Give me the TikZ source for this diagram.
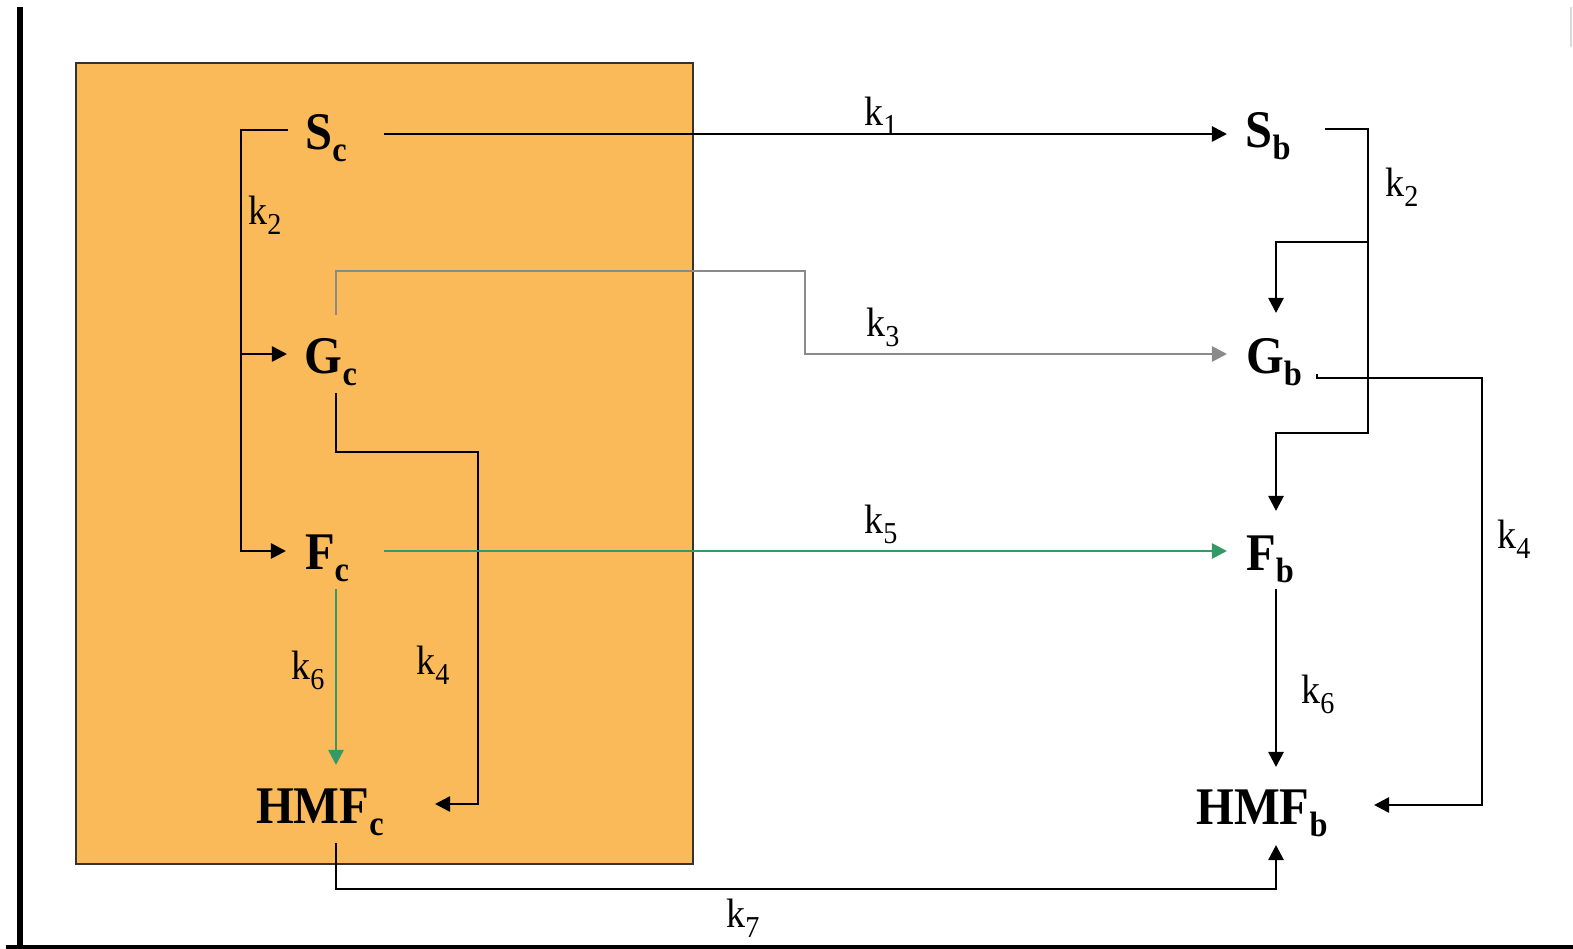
\documentclass[tikz,border=0pt]{standalone}
\usepackage{graphicx}
\usepackage{fontspec}
\setmainfont{Liberation Serif}
\usetikzlibrary{arrows.meta}

\definecolor{boxorange}{RGB}{251,186,90}
\definecolor{kgreen}{RGB}{51,153,102}
\definecolor{kgrey}{RGB}{138,138,138}

\newcommand{\spc}[2]{\scalebox{1}[1.09]{\fontsize{13.8}{16}\selectfont\bfseries #1\raisebox{-3.2pt}{\fontsize{9.2}{9}\selectfont #2}}}
\newcommand{\kk}[1]{\scalebox{1}[1.08]{\fontsize{10.8}{13}\selectfont k\raisebox{-2.6pt}{\fontsize{8}{8}\selectfont #1}}}

\tikzset{
    species/.style={inner sep=0pt},
    rate/.style={inner sep=0pt},
    conn/.style={line width=0.75pt, -{Triangle[length=4.3pt,width=4.3pt]}},
}

\begin{document}
\begin{tikzpicture}[x=0.01cm, y=-0.01cm]
    \useasboundingbox (0,0) rectangle (1573,949);

    % Frame lines
    \draw[line width=1.7pt] (20,7) -- (20,948);
    \draw[line width=0.9pt] (6,947) -- (1573,947);
    \draw[black!15, line width=0.5pt] (1571,7) -- (1571,47);

    % Shaded compartment
    \draw[fill=boxorange, draw=black!80, line width=0.5pt] (76,63) rectangle (693,864);

    % Species, left compartment
    \node[species] (Sc) at (326,138) {\spc{S}{c}};
    \node[species] (Gc) at (331,362) {\spc{G}{c}};
    \node[species] (Fc) at (327,558) {\spc{F}{c}};
    \node[species] (HMFc) at (320,812) {\spc{HMF}{c}};

    % Species, right side
    \node[species] (Sb) at (1268,136) {\spc{S}{b}};
    \node[species] (Gb) at (1274,362) {\spc{G}{b}};
    \node[species] (Fb) at (1270,559) {\spc{F}{b}};
    \node[species] (HMFb) at (1262,813) {\spc{HMF}{b}};

    % Helper points
    \coordinate (jL) at (241,0);
    \coordinate (GcL) at ([shift={(-44,-8)}]Gc.center);
    \coordinate (FcL) at ([shift={(-41,-7)}]Fc.center);
    \coordinate (jRup) at (1368,242);
    \coordinate (jRlow) at (1368,433);
    \coordinate (GbT) at ([shift={(2,-49)}]Gb.center);
    \coordinate (FbT) at ([shift={(6,-48)}]Fb.center);
    \coordinate (k3up) at (805,271);
    \coordinate (k4L) at (478,452);
    \coordinate (k4R) at (1482,805);
    \coordinate (k7low) at (336,889);

    % k1
    \draw[conn] ([shift={(58,-4)}]Sc.center) -- ([shift={(-41,-2)}]Sb.center);

    % k2, left
    \draw[conn] ([shift={(-38,-8)}]Sc.center) -| (jL |- FcL) -- (FcL);
    \draw[conn] (jL |- GcL) -- (GcL);

    % k2, right
    \draw[conn] ([shift={(57,-7)}]Sb.center) -| (jRlow) -| (FbT);
    \draw[conn] (jRup) -| (GbT);

    % k3
    \draw[conn, kgrey] ([shift={(5,-47)}]Gc.center) |- (k3up) |- ([shift={(-47,-8)}]Gb.center);

    % k4
    \draw[conn] ([shift={(5,31)}]Gc.center) |- (k4L) |- ([shift={(115,-8)}]HMFc.center);
    \draw[conn] ([shift={(43,12)}]Gb.center) -- ++(0,4) -| (k4R) -- ([shift={(112,-8)}]HMFb.center);

    % k5
    \draw[conn, kgreen] ([shift={(57,-7)}]Fc.center) -- ([shift={(-43,-8)}]Fb.center);

    % k6
    \draw[conn, kgreen] ([shift={(9,31)}]Fc.center) -- ([shift={(16,-47)}]HMFc.center);
    \draw[conn] ([shift={(6,30)}]Fb.center) -- ([shift={(14,-46)}]HMFb.center);

    % k7
    \draw[conn] ([shift={(16,31)}]HMFc.center) -- (k7low) -| ([shift={(14,32)}]HMFb.center);

    % Rate labels
    \node[rate] (k1) at (881,116) {\kk{1}};
    \node[rate] (k2L) at (265,215) {\kk{2}};
    \node[rate] (k2R) at (1402,187) {\kk{2}};
    \node[rate] (k3) at (883,327) {\kk{3}};
    \node[rate] (k4L) at (433,665) {\kk{4}};
    \node[rate] (k4R) at (1514,539) {\kk{4}};
    \node[rate] (k5) at (881,524) {\kk{5}};
    \node[rate] (k6L) at (308,670) {\kk{6}};
    \node[rate] (k6R) at (1318,694) {\kk{6}};
    \node[rate] (k7) at (743,918) {\kk{7}};

\end{tikzpicture}
\end{document}
